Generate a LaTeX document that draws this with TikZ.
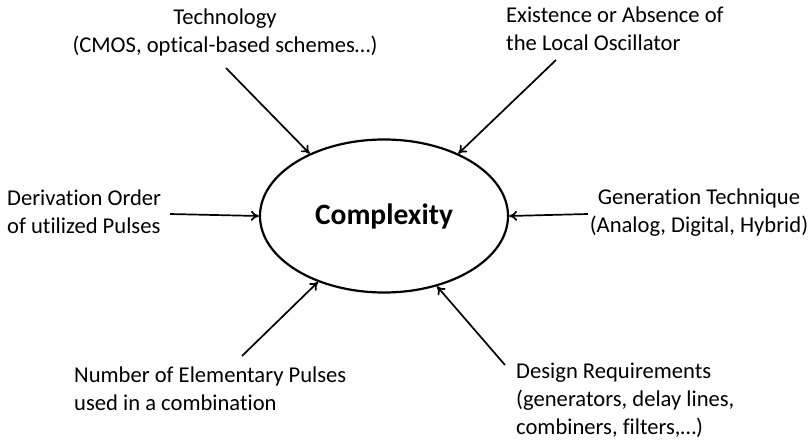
\documentclass[tikz,border=0pt]{standalone}
\usepackage{fontspec}
\setmainfont{Carlito}[Ligatures={NoCommon,NoRequired,NoContextual},Contextuals=NoAlternate]
\usetikzlibrary{shapes.geometric,arrows.meta}
\begin{document}
\begin{tikzpicture}[x=1pt,y=-1pt]
        \tikzstyle{center}=[ellipse,draw=black,line width=2.2pt,minimum width=248pt,minimum height=153pt,inner sep=0pt,font=\fontsize{29.5}{32}\selectfont\bfseries]
        \tikzstyle{factor}=[inner sep=0pt,font=\fontsize{22.6}{28}\selectfont]
        \tikzstyle{edge}=[draw,line width=1.7pt,-{To[length=8pt,width=10pt]}]
       \useasboundingbox (0,0) rectangle (809,441);
       \begin{scope}
         \node [center] (cx) at (384,216) {Complexity};

         \node [factor,align=center] (tech) at (225,32) {Technology\\(CMOS, optical-based schemes…)};
         \node [factor,align=left,anchor=west] (osc) at (506,29) {Existence or Absence of\\the Local Oscillator};
         \node [factor,align=left,anchor=west] (order) at (7,212) {Derivation Order\\of utilized Pulses};
         \node [factor,align=center] (gen) at (699,213) {Generation Technique\\(Analog, Digital, Hybrid)};
         \node [factor,align=left,anchor=west] (num) at (74,389) {Number of Elementary Pulses\\used in a combination};
         \node [factor,align=left,anchor=west] (req) at (516,400) {Design Requirements\\(generators, delay lines,\\combiners, filters,…)};

         \coordinate (t1) at (226,68);
         \coordinate (t2) at (556,60);
         \coordinate (t3) at (170,214);
         \coordinate (t4) at (588,214);
         \coordinate (t5) at (242,356);
         \coordinate (t6) at (505,365);

         \path[edge] (t1) -- (cx.140);
         \path[edge] (t2) -- (cx.40);
         \path[edge] (t3) -- (cx.west);
         \path[edge] (t4) -- (cx.east);
         \path[edge] (t5) -- (cx.225);
         \path[edge] (t6) -- (cx.307);
        \end{scope}
      \end{tikzpicture}
\end{document}
